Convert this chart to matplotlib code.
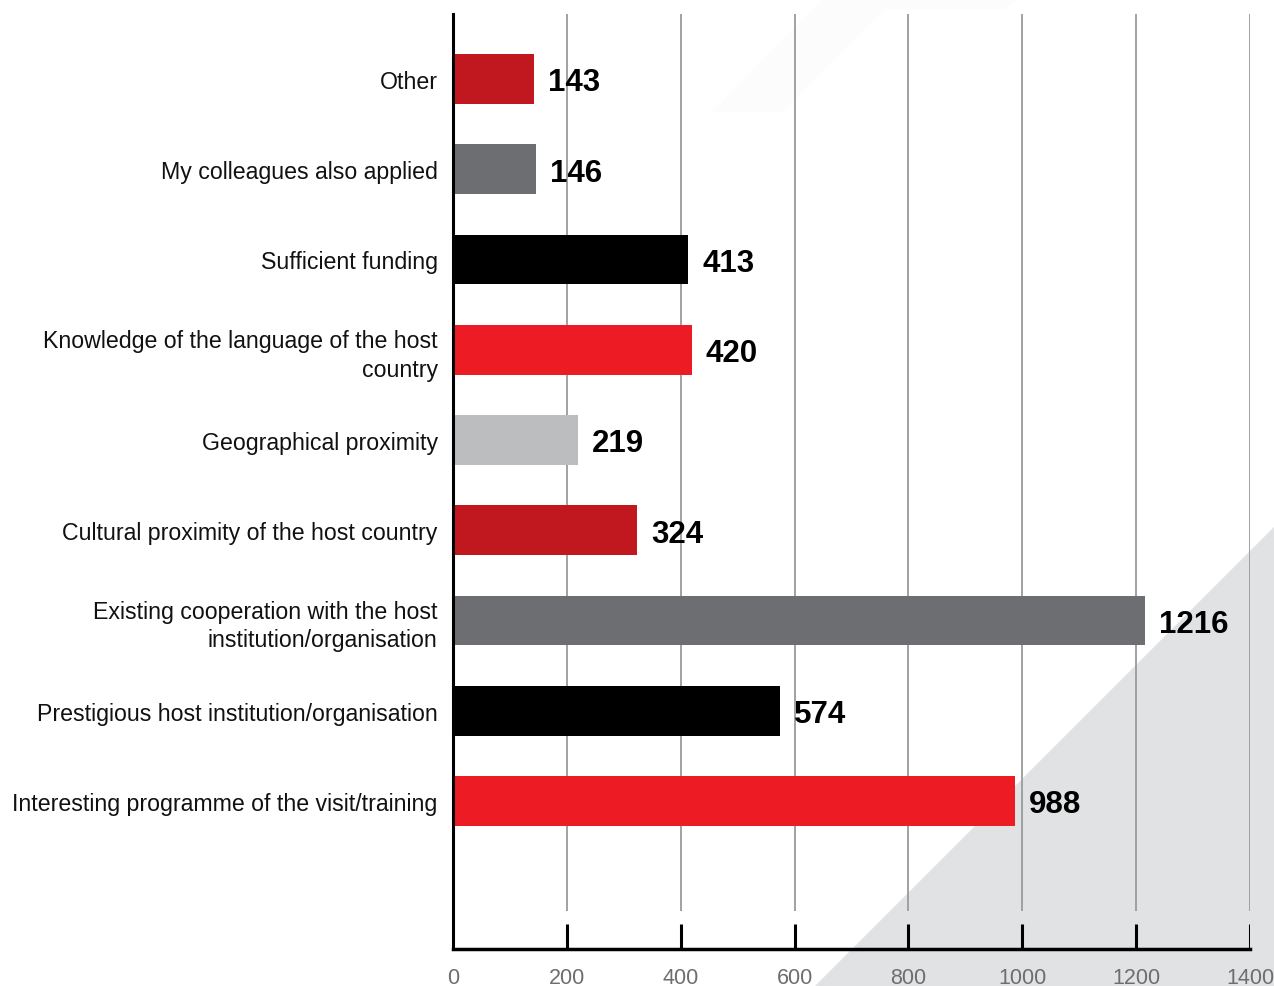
import matplotlib
matplotlib.use("Agg")
import matplotlib.pyplot as plt
from matplotlib.patches import Polygon
import numpy as np

# ─── Data ─────────────────────────────────────────────────────────────────────
categories = [
    "Other",
    "My colleagues also applied",
    "Sufficient funding",
    "Knowledge of the language of the host\ncountry",
    "Geographical proximity",
    "Cultural proximity of the host country",
    "Existing cooperation with the host\ninstitution/organisation",
    "Prestigious host institution/organisation",
    "Interesting programme of the visit/training",
]
values = [143, 146, 413, 420, 219, 324, 1216, 574, 988]
bar_colors = ["#c1171f", "#6d6e71", "#000000", "#ed1c24", "#bcbdbf",
              "#c1171f", "#6d6e71", "#000000", "#ed1c24"]
x_ticks = [0, 200, 400, 600, 800, 1000, 1200, 1400]

plt.rcParams["font.family"] = ["Liberation Sans", "DejaVu Sans"]

W, H = 1274, 987
fig = plt.figure(figsize=(W / 100, H / 100), dpi=100)
fig.patch.set_facecolor("white")

# ─── Decorative background shapes (figure pixels) ─────────────────────────────
def px(points):
    return [(x / W, 1 - y / H) for x, y in points]

fig.patches.append(Polygon(px([(815, 987), (1274, 528), (1274, 987)]),
                           closed=True, transform=fig.transFigure,
                           facecolor="#e1e2e3", edgecolor="none", zorder=-2))
fig.patches.append(Polygon(px([(712, 113), (823, 0), (1017, 0), (1005, 10),
                               (885, 10), (783, 113)]),
                           closed=True, transform=fig.transFigure,
                           facecolor="#fcfcfc", edgecolor="none", zorder=-2))

# ─── Axes ─────────────────────────────────────────────────────────────────────
left, right = 453 / W, 1250 / W
bottom, top = 1 - 950 / H, 1 - 15 / H
ax = fig.add_axes([left, bottom, right - left, top - bottom], zorder=1)
ax.set_facecolor("none")

y = np.arange(len(categories))
n = len(categories)
y_top, y_bot = -0.72, n - 1 + 1.64
ax.set_xlim(0, 1400)
ax.set_ylim(y_bot, y_top)

# grid lines and separate tick marks
ax.vlines(x_ticks[1:], y_top, n - 1 + 1.22, color="#9a9a9a", lw=1.3, zorder=1)
ax.vlines(x_ticks[1:], n - 1 + 1.36, y_bot, color="black", lw=2.2, zorder=1)

ax.barh(y, values, height=0.55, color=bar_colors, zorder=2)

for yi, v in zip(y, values):
    ax.annotate(f"{v}", xy=(v, yi), xytext=(10, 0), textcoords="offset points",
                ha="left", va="center_baseline", fontsize=22.5,
                fontweight="bold", color="black", zorder=3)

ax.set_yticks(y)
ax.set_yticklabels(categories, fontsize=16.7, color="#111111", linespacing=1.3)
ax.set_xticks(x_ticks)
ax.set_xticklabels([str(t) for t in x_ticks], fontsize=15.5, color="#6d6e71")
ax.tick_params(axis="both", length=0)
ax.tick_params(axis="y", pad=11)
ax.tick_params(axis="x", pad=13)

for s in ["top", "right"]:
    ax.spines[s].set_visible(False)
ax.spines["left"].set_linewidth(2.2)
ax.spines["bottom"].set_linewidth(2.5)
ax.spines["left"].set_zorder(4)

plt.savefig("out.png", dpi=100)
plt.close()
